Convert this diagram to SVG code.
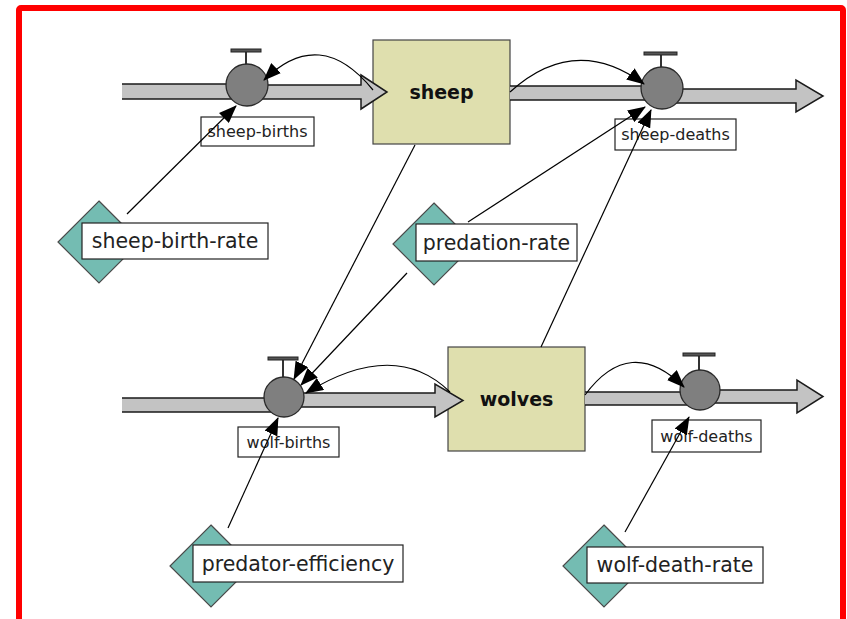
<svg xmlns="http://www.w3.org/2000/svg" width="847" height="619" viewBox="0 0 847 619">
<defs>
<style>
.stock{fill:#dfdfae;stroke:#444;stroke-width:1.2}
.pipe{fill:#c3c3c3;stroke:#1a1a1a;stroke-width:1.5;stroke-linejoin:miter}
.valve{fill:#7f7f7f;stroke:#2a2a2a;stroke-width:1.3}
.handle{fill:#555;stroke:#222;stroke-width:1}
.stem{stroke:#333;stroke-width:2}
.box{fill:#fff;stroke:#222;stroke-width:1.2}
.diamond{fill:#74bcb2;stroke:#4a4a4a;stroke-width:1.2}
.sm{font-family:"DejaVu Sans","Liberation Sans",sans-serif;font-size:16px;fill:#222;text-anchor:middle}
.lg{font-family:"DejaVu Sans","Liberation Sans",sans-serif;font-size:20.5px;fill:#222;text-anchor:middle}
.st{font-family:"DejaVu Sans","Liberation Sans",sans-serif;font-size:19px;font-weight:bold;fill:#111;text-anchor:middle}
.link{fill:none;stroke:#000;stroke-width:1.2;marker-end:url(#ah)}
</style>
<marker id="ah" markerWidth="18" markerHeight="14" refX="17" refY="7" orient="auto" markerUnits="userSpaceOnUse">
<path d="M0,0 L18,7 L0,14 z" fill="#000"/>
</marker>
</defs>
<rect x="0" y="0" width="847" height="619" fill="#fff"/>
<rect x="19" y="8" width="824" height="700" rx="2" fill="none" stroke="#f00" stroke-width="6"/>

<g id="sheep">
<rect class="stock" x="373" y="40" width="137" height="104"/>
<text class="st" x="441.5" y="99">sheep</text>
</g>
<g id="wolves">
<rect class="stock" x="448" y="347" width="137" height="104"/>
<text class="st" x="516.5" y="406">wolves</text>
</g>

<g id="flows">
<path class="pipe" d="M122,84 H250 V99 H122"/>
<path class="pipe" d="M247,85 H361 V75 L387,92 L361,109 V99 H247"/>
<path class="pipe" d="M510,86 H662 V100 H510"/>
<path class="pipe" d="M662,89 H796 V80 L823,96 L796,112 V103 H662"/>
<path class="pipe" d="M122,398 H284 V412 H122"/>
<path class="pipe" d="M284,393 H435 V384 L463,400.5 L435,417 V407 H284"/>
<path class="pipe" d="M585,392 H700 V405 H585"/>
<path class="pipe" d="M700,390 H797 V380 L823,396.5 L797,413 V403 H700"/>
</g>

<g id="sheep-births">
<line class="stem" x1="246" y1="51" x2="246" y2="65"/>
<rect class="handle" x="231" y="49" width="30" height="3"/>
<circle class="valve" cx="247" cy="85" r="21"/>
<rect class="box" x="201" y="117" width="113" height="29"/>
<text class="sm" x="257.5" y="137">sheep-births</text>
</g>
<g id="sheep-deaths">
<line class="stem" x1="661" y1="54" x2="661" y2="67"/>
<rect class="handle" x="644" y="52" width="33" height="3"/>
<circle class="valve" cx="662" cy="88" r="21"/>
<rect class="box" x="615" y="119" width="121" height="31"/>
<text class="sm" x="675.5" y="140">sheep-deaths</text>
</g>
<g id="wolf-births">
<line class="stem" x1="283" y1="359" x2="283" y2="377"/>
<rect class="handle" x="268" y="357" width="30" height="3"/>
<circle class="valve" cx="284" cy="397" r="20"/>
<rect class="box" x="238" y="427" width="101" height="30"/>
<text class="sm" x="288.5" y="448">wolf-births</text>
</g>
<g id="wolf-deaths">
<line class="stem" x1="699" y1="355" x2="699" y2="370"/>
<rect class="handle" x="683" y="353" width="32" height="3"/>
<circle class="valve" cx="700" cy="390" r="20"/>
<rect class="box" x="652" y="420" width="109" height="32"/>
<text class="sm" x="706.5" y="442">wolf-deaths</text>
</g>

<g id="sheep-birth-rate">
<polygon class="diamond" points="99,201 140,242 99,283 58,242"/>
<rect class="box" x="82" y="223" width="186" height="36"/>
<text class="lg" x="175" y="248">sheep-birth-rate</text>
</g>
<g id="predation-rate">
<polygon class="diamond" points="434,203 475,244 434,285 393,244"/>
<rect class="box" x="416" y="224" width="161" height="37"/>
<text class="lg" x="496.5" y="250">predation-rate</text>
</g>
<g id="predator-efficiency">
<polygon class="diamond" points="211,525 252,566 211,607 170,566"/>
<rect class="box" x="193" y="545" width="210" height="37"/>
<text class="lg" x="298" y="571">predator-efficiency</text>
</g>
<g id="wolf-death-rate">
<polygon class="diamond" points="604,525 645,566 604,607 563,566"/>
<rect class="box" x="587" y="547" width="176" height="36"/>
<text class="lg" x="675" y="572">wolf-death-rate</text>
</g>

<g id="connectors">
<line class="link" x1="127" y1="214" x2="236" y2="106"/>
<path class="link" d="M373,90 Q320,25 264,80"/>
<path class="link" d="M510,92 Q575,33 644,84"/>
<line class="link" x1="468" y1="222" x2="645" y2="107"/>
<line class="link" x1="541" y1="347" x2="651" y2="110"/>
<line class="link" x1="415" y1="145" x2="294" y2="379"/>
<line class="link" x1="407" y1="273" x2="301" y2="385"/>
<path class="link" d="M450,392 Q395,338 306,393"/>
<line class="link" x1="228" y1="528" x2="278" y2="418"/>
<path class="link" d="M585,395 Q630,334 684,387"/>
<line class="link" x1="625" y1="532" x2="689" y2="417"/>
</g>
</svg>
